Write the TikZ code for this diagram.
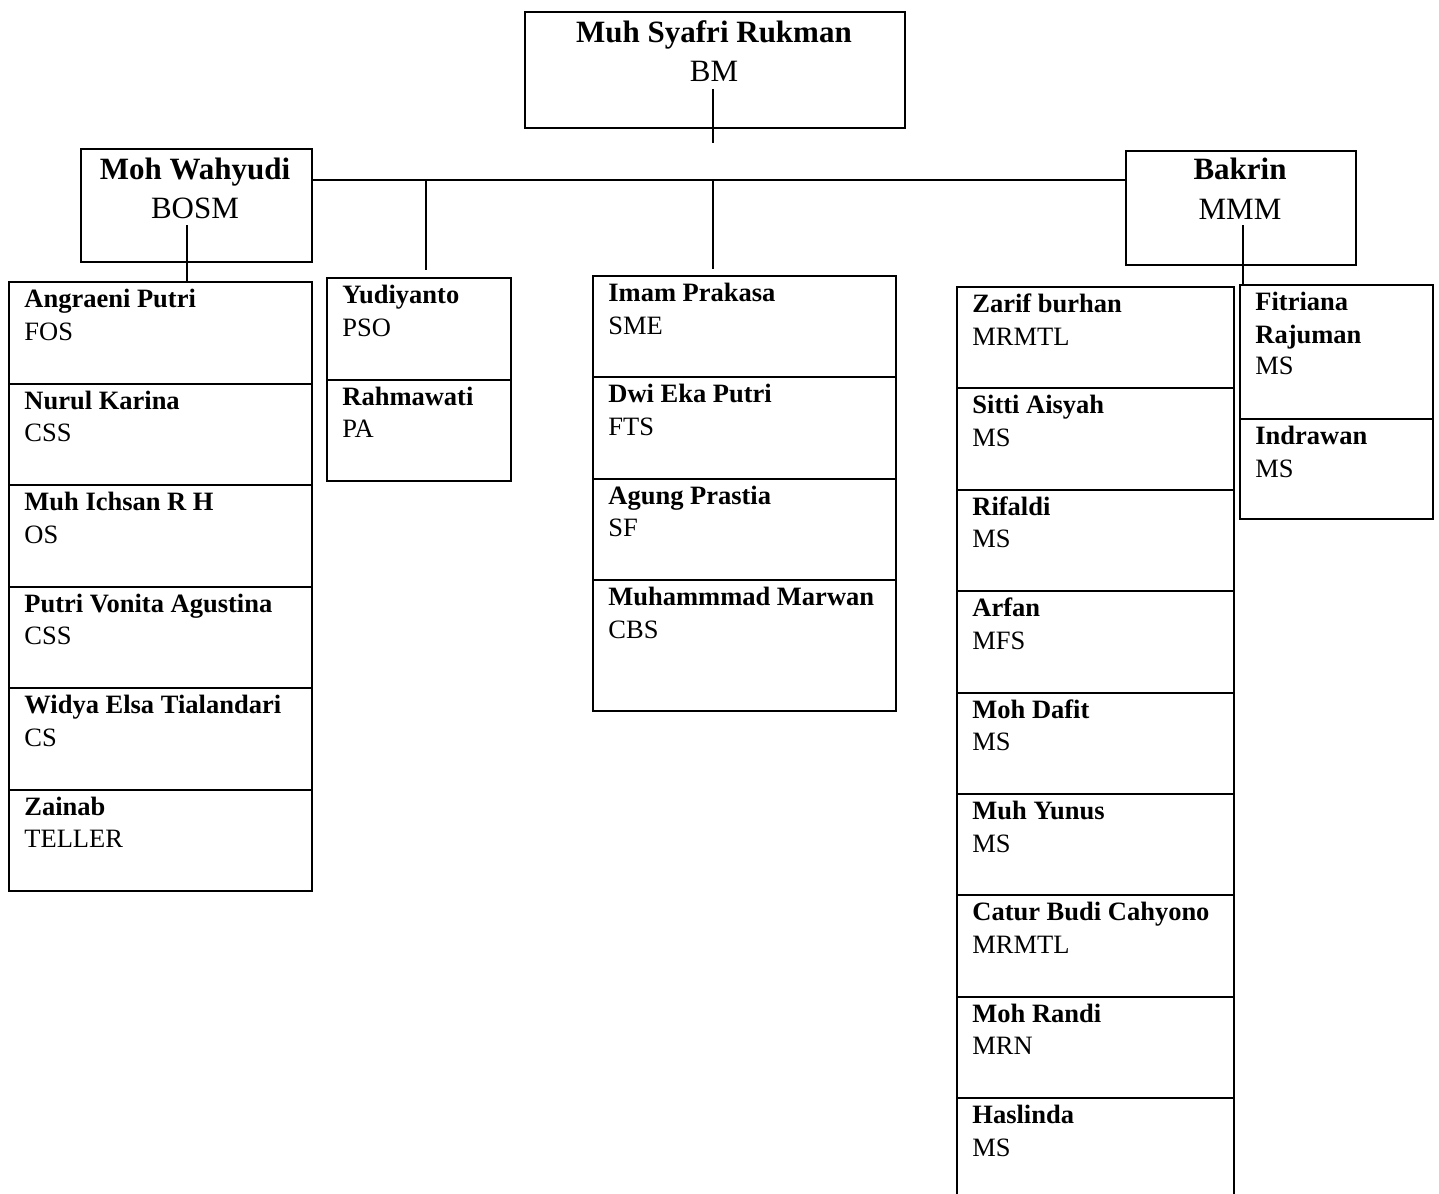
\documentclass[tikz,border=0pt]{standalone}
\usepackage{fontspec}
\setmainfont{Liberation Serif}
\newcommand\orgcell[7]{%
  \node[box,minimum width=#4*0.5pt,minimum height=#5*0.5pt] (#1) at (#2,#3) {};
  \node[nm] (#1n) at ([xshift=8pt,yshift=-13.25pt]#1.north west) {#6};
  \node[rl] (#1r) at ([xshift=8pt,yshift=-29.5pt]#1.north west) {#7};}
\begin{document}
\begin{tikzpicture}[x=0.5pt,y=-0.5pt,
  box/.style={draw,line width=1pt,inner sep=0pt,anchor=north west},
  conn/.style={line width=0.8pt},
  nm/.style={anchor=base west,inner sep=0pt,font=\fontsize{13.25}{15}\selectfont\bfseries},
  rl/.style={anchor=base west,inner sep=0pt,font=\fontsize{13.25}{15}\selectfont},
  bnm/.style={anchor=base,inner sep=0pt,font=\fontsize{15.5}{18}\selectfont\bfseries},
  brl/.style={anchor=base,inner sep=0pt,font=\fontsize{15.5}{18}\selectfont}]
\useasboundingbox[fill=white] (0,0) rectangle (1439,1193);

% managers
\node[box,minimum width=380*0.5pt,minimum height=116*0.5pt] (bm) at (524,11) {};
\node[bnm] (bmn) at (714,43) {Muh Syafri Rukman};
\node[brl] (bmr) at (714,82) {BM};

\node[box,minimum width=231*0.5pt,minimum height=113*0.5pt] (bosm) at (80,148) {};
\node[bnm] (bosmn) at (195,179) {Moh Wahyudi};
\node[brl] (bosmr) at (195,218) {BOSM};

\node[box,minimum width=230*0.5pt,minimum height=114*0.5pt] (mmm) at (1125,150) {};
\node[bnm] (mmmn) at (1240,179) {Bakrin};
\node[brl] (mmmr) at (1240,219) {MMM};

% left column
\orgcell{L1}{8}{281}{303}{101.5}{Angraeni Putri}{FOS}
\orgcell{L2}{8}{382.5}{303}{101.5}{Nurul Karina}{CSS}
\orgcell{L3}{8}{484}{303}{101.5}{Muh Ichsan R H}{OS}
\orgcell{L4}{8}{585.5}{303}{101.5}{Putri Vonita Agustina}{CSS}
\orgcell{L5}{8}{687}{303}{101.5}{Widya Elsa Tialandari}{CS}
\orgcell{L6}{8}{788.5}{303}{101.5}{Zainab}{TELLER}

% second column
\orgcell{Y1}{326}{277}{184}{101.5}{Yudiyanto}{PSO}
\orgcell{Y2}{326}{378.5}{184}{101.5}{Rahmawati}{PA}

% middle column
\orgcell{M1}{592}{275}{303}{101.3}{Imam Prakasa}{SME}
\orgcell{M2}{592}{376.3}{303}{101.3}{Dwi Eka Putri}{FTS}
\orgcell{M3}{592}{477.6}{303}{101.4}{Agung Prastia}{SF}
\orgcell{M4}{592}{579}{303}{131}{Muhammmad Marwan}{CBS}

% right column
\orgcell{R1}{956}{286}{277}{101.4}{Zarif burhan}{MRMTL}
\orgcell{R2}{956}{387.4}{277}{101.4}{Sitti Aisyah}{MS}
\orgcell{R3}{956}{488.8}{277}{101.4}{Rifaldi}{MS}
\orgcell{R4}{956}{590.2}{277}{101.4}{Arfan}{MFS}
\orgcell{R5}{956}{691.6}{277}{101.4}{Moh Dafit}{MS}
\orgcell{R6}{956}{793}{277}{101.4}{Muh Yunus}{MS}
\orgcell{R7}{956}{894.4}{277}{101.4}{Catur Budi Cahyono}{MRMTL}
\orgcell{R8}{956}{995.8}{277}{101.4}{Moh Randi}{MRN}
\orgcell{R9}{956}{1097.2}{277}{130}{Haslinda}{MS}

% far right column
\node[box,minimum width=193*0.5pt,minimum height=134*0.5pt] (F1) at (1239,284) {};
\node[nm] (F1n) at ([xshift=8pt,yshift=-13pt]F1.north west) {Fitriana};
\node[nm] (F1m) at ([xshift=8pt,yshift=-29.5pt]F1.north west) {Rajuman};
\node[rl] (F1r) at ([xshift=8pt,yshift=-45pt]F1.north west) {MS};
\orgcell{F2}{1239}{418}{193}{100}{Indrawan}{MS}

% connectors
\coordinate (bmstem) at (713,89);
\coordinate (bmend) at (713,143);
\draw[conn] (bmstem) -- (bmend);

\coordinate (hl) at (0,180);
\draw[conn] (bosm.east |- hl) -- (mmm.west |- hl);

\coordinate (yj) at (426,180);
\path (Y1.north -| yj) ++(0,-7) coordinate (yjend);
\draw[conn] (yj) -- (yjend);

\coordinate (mj) at (713,180);
\path (M1.north -| mj) ++(0,-6) coordinate (mjend);
\draw[conn] (mj) -- (mjend);

\coordinate (ws) at (187,225);
\draw[conn] (ws) -- (ws |- L1.north);

\coordinate (bs) at (1243,225);
\draw[conn] (bs) -- (bs |- F1.north);
\end{tikzpicture}
\end{document}
